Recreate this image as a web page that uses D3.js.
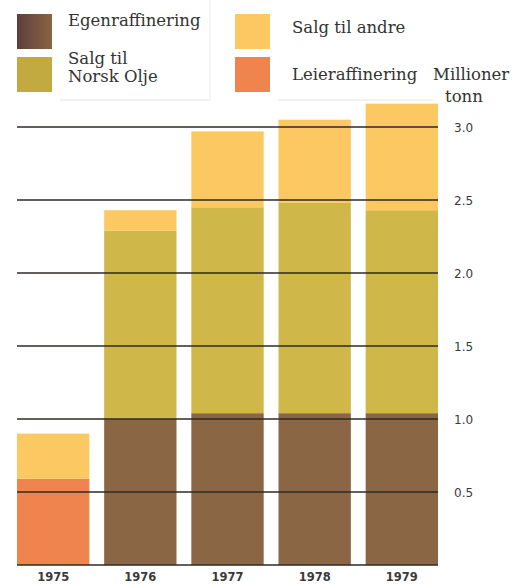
<!DOCTYPE html>
<html><head><meta charset="utf-8">
<script src="https://cdn.jsdelivr.net/npm/d3@7"></script>
<style>html,body{margin:0;padding:0;background:#fff;}svg{display:block;}</style>
</head><body>
<script>
const years = ["1975","1976","1977","1978","1979"];
const leieraffinering = [0.59, 0, 0, 0, 0];
const egenraffinering = [0, 1.0, 1.04, 1.04, 1.04];
const salgNorskOlje = [0, 1.29, 1.41, 1.44, 1.39];
const salgAndre = [0.31, 0.14, 0.52, 0.57, 0.73];
const tickValues = [0.5, 1.0, 1.5, 2.0, 2.5, 3.0];
const seriesKeys = ["leie", "egen", "norsk", "andre"];
const seriesLabels = {egen: ["Egenraffinering"], norsk: ["Salg til", "Norsk Olje"], andre: ["Salg til andre"], leie: ["Leieraffinering"]};
const colors = {egen: "#8b6644", norsk: "#d0b74a", andre: "#fcc862", leie: "#f0844e"};

const W = 520, H = 584;
const svg = d3.select("body").append("svg").attr("width", W).attr("height", H);

const table = years.map((y, i) => ({year: y, leie: leieraffinering[i], egen: egenraffinering[i], norsk: salgNorskOlje[i], andre: salgAndre[i]}));
const stacked = d3.stack().keys(seriesKeys)(table);

const x = d3.scaleBand().domain(years).range([17, 438]).paddingInner(0.17).paddingOuter(0);
const y = d3.scaleLinear().domain([0, 3.0]).range([565, 127]);

// bars
svg.append("g").selectAll("g").data(stacked).join("g")
  .attr("fill", d => colors[d.key])
  .selectAll("rect").data(d => d.filter(p => p[1] - p[0] > 0)).join("rect")
  .attr("x", d => x(d.data.year))
  .attr("width", x.bandwidth())
  .attr("y", d => y(d[1]))
  .attr("height", d => y(d[0]) - y(d[1]));

// gridlines on top
svg.append("g").selectAll("line").data([0].concat(tickValues)).join("line")
  .attr("x1", 17).attr("x2", 438)
  .attr("y1", d => y(d)).attr("y2", d => y(d))
  .attr("stroke", "#2e2a26").attr("stroke-width", 1.6);

// right axis labels
const axis = d3.axisRight(y).tickValues(tickValues).tickFormat(d3.format(".1f")).tickSize(0).tickPadding(0);
const ag = svg.append("g").attr("transform", "translate(454,0)").call(axis);
ag.select(".domain").remove();
ag.selectAll("text").attr("font-family", "'DejaVu Sans', sans-serif").attr("font-size", 12).attr("fill", "#3a3a3a").attr("dy", "0.35em");

// x labels
const xa = d3.axisBottom(x).tickSize(0).tickPadding(0);
const xg = svg.append("g").attr("transform", "translate(0,573)").call(xa);
xg.select(".domain").remove();
xg.selectAll("text").attr("font-family", "'DejaVu Sans', sans-serif").attr("font-size", 11.5).attr("fill", "#3a3a3a").attr("dy", "0.71em").attr("font-weight", "bold");

// legend boxes (faint)
svg.append("line").attr("x1", 60).attr("x2", 210).attr("y1", 100).attr("y2", 100).attr("stroke", "#e4e4e4");
svg.append("line").attr("x1", 210).attr("x2", 210).attr("y1", 0).attr("y2", 100).attr("stroke", "#ececec");
svg.append("line").attr("x1", 278).attr("x2", 433).attr("y1", 100).attr("y2", 100).attr("stroke", "#e4e4e4");

// legend gradient for brown swatch
const defs = svg.append("defs");
const grad = defs.append("linearGradient").attr("id", "egenGrad").attr("x1", "0").attr("x2", "1").attr("y1", "0").attr("y2", "0");
grad.append("stop").attr("offset", "0").attr("stop-color", "#5e3e3e");
grad.append("stop").attr("offset", "1").attr("stop-color", "#8a6442");

const legendItems = [
  {key: "egen", sx: 17, sy: 14, tx: 68, ty: [26]},
  {key: "norsk", sx: 17, sy: 57, tx: 68, ty: [64, 82]},
  {key: "andre", sx: 235, sy: 14, tx: 292, ty: [33]},
  {key: "leie", sx: 235, sy: 57, tx: 292, ty: [80]}
];
const lfont = "'DejaVu Serif', serif", lsize = 16.5;
const lg = svg.append("g");
legendItems.forEach(it => {
  lg.append("rect").attr("x", it.sx).attr("y", it.sy).attr("width", 35).attr("height", 35)
    .attr("fill", it.key === "egen" ? "url(#egenGrad)" : (it.key === "norsk" ? "#c3aa40" : colors[it.key]));
  seriesLabels[it.key].forEach((t, j) => {
    lg.append("text").attr("x", it.tx).attr("y", it.ty[j]).text(t)
      .attr("font-family", lfont).attr("font-size", lsize).attr("fill", "#333");
  });
});

svg.append("text").attr("x", 433).attr("y", 80).text("Millioner")
  .attr("font-family", lfont).attr("font-size", lsize).attr("fill", "#333");
svg.append("text").attr("x", 445).attr("y", 102).text("tonn")
  .attr("font-family", lfont).attr("font-size", lsize).attr("fill", "#333");
</script>
</body></html>
